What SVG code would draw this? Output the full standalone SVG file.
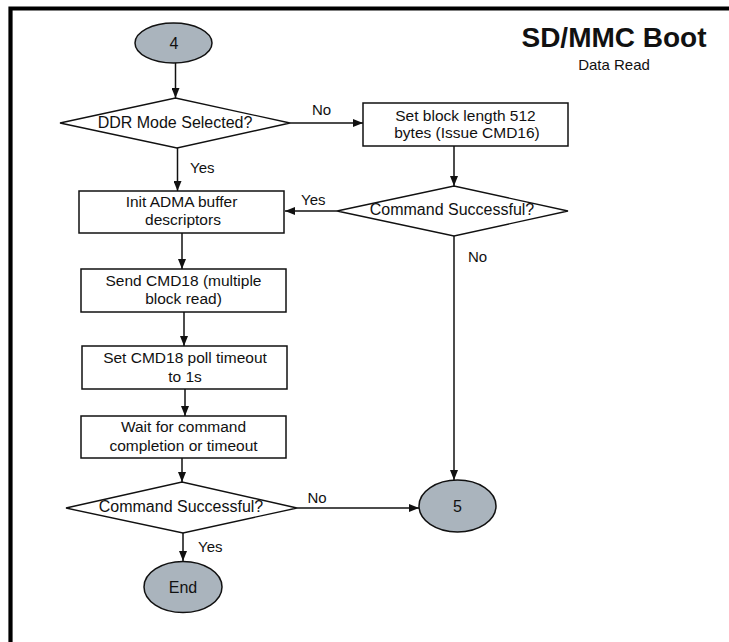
<svg xmlns="http://www.w3.org/2000/svg" width="729" height="642" viewBox="0 0 729 642">
<style>
text{font-family:"Liberation Sans",Arial,Helvetica,sans-serif;fill:#111}
.box{fill:#fff;stroke:#111;stroke-width:1.5}
.dia{fill:#fff;stroke:#111;stroke-width:1.3}
.ell{fill:#aab4bd;stroke:#111;stroke-width:1.5}
.t{font-size:15.5px;text-anchor:middle}
.dt{font-size:16px;text-anchor:middle}
.lb{font-size:15px}
.con{stroke:#111;stroke-width:1.5;fill:none;marker-end:url(#ah)}
</style>
<defs>
<marker id="ah" markerWidth="10" markerHeight="8" refX="10" refY="4" orient="auto" markerUnits="userSpaceOnUse">
<path d="M0,0 L10,4 L0,8 Z" fill="#111"/>
</marker>
</defs>
<rect width="729" height="642" fill="#fff"/>
<g id="frame">
<path d="M10.5,642 V8.5 H729" fill="none" stroke="#000" stroke-width="4.2"/>
</g>
<g id="title">
<text x="614" y="47" style="font-size:28px;font-weight:bold;text-anchor:middle">SD/MMC Boot</text>
<text x="614" y="70" style="font-size:15px;text-anchor:middle">Data Read</text>
</g>
<g id="connectors">
<line class="con" x1="175.5" y1="63" x2="175.5" y2="98"/>
<line class="con" x1="177.5" y1="148" x2="177.5" y2="191"/>
<line class="con" x1="290" y1="123" x2="363" y2="123"/>
<line class="con" x1="454" y1="146" x2="454" y2="186"/>
<line class="con" x1="337" y1="211" x2="285" y2="211"/>
<line class="con" x1="454" y1="236" x2="454" y2="480"/>
<line class="con" x1="182" y1="233" x2="182" y2="269"/>
<line class="con" x1="184" y1="312" x2="184" y2="346"/>
<line class="con" x1="185" y1="389" x2="185" y2="416"/>
<line class="con" x1="182" y1="458" x2="182" y2="482"/>
<line class="con" x1="297" y1="508" x2="419" y2="508"/>
<line class="con" x1="183" y1="533" x2="183" y2="561"/>
<text class="lb" x="312" y="115">No</text>
<text class="lb" x="190" y="173">Yes</text>
<text class="lb" x="301" y="205">Yes</text>
<text class="lb" x="468" y="262">No</text>
<text class="lb" x="307.5" y="503">No</text>
<text class="lb" x="198" y="552">Yes</text>
</g>
<g id="start4">
<ellipse class="ell" cx="173.5" cy="43" rx="38.5" ry="20"/>
<text class="dt" x="174" y="48.5">4</text>
</g>
<g id="ddr">
<polygon class="dia" points="60,123 175.5,98 290,123 177,148"/>
<text class="dt" x="175" y="127.5">DDR Mode Selected?</text>
</g>
<g id="setblock">
<rect class="box" x="363" y="103" width="205" height="43"/>
<text class="t" x="465.5" y="120.5">Set block length 512</text>
<text class="t" x="467" y="137.5">bytes (Issue CMD16)</text>
</g>
<g id="cmdok1">
<polygon class="dia" points="337,211 454,186 568,211 454,236"/>
<text class="dt" x="452" y="214.5">Command Successful?</text>
</g>
<g id="initadma">
<rect class="box" x="79" y="191" width="205" height="42"/>
<text class="t" x="181.5" y="207">Init ADMA buffer</text>
<text class="t" x="183" y="224.5">descriptors</text>
</g>
<g id="sendcmd18">
<rect class="box" x="81" y="269" width="205" height="43"/>
<text class="t" x="183.5" y="285.5">Send CMD18 (multiple</text>
<text class="t" x="183.5" y="304">block read)</text>
</g>
<g id="polltimeout">
<rect class="box" x="82" y="346" width="205" height="43"/>
<text class="t" x="185" y="362.5">Set CMD18 poll timeout</text>
<text class="t" x="185" y="381.5">to 1s</text>
</g>
<g id="waitcmd">
<rect class="box" x="81" y="416" width="205" height="42"/>
<text class="t" x="183.5" y="432">Wait for command</text>
<text class="t" x="183.5" y="451">completion or timeout</text>
</g>
<g id="cmdok2">
<polygon class="dia" points="66,508 182,482 297,508 183,533"/>
<text class="dt" x="181" y="512">Command Successful?</text>
</g>
<g id="end5">
<ellipse class="ell" cx="457.5" cy="506" rx="38.5" ry="26"/>
<text class="dt" x="457.5" y="511.5">5</text>
</g>
<g id="end">
<ellipse class="ell" cx="183" cy="587" rx="39" ry="25.5"/>
<text class="dt" x="183" y="592.5">End</text>
</g>
</svg>
